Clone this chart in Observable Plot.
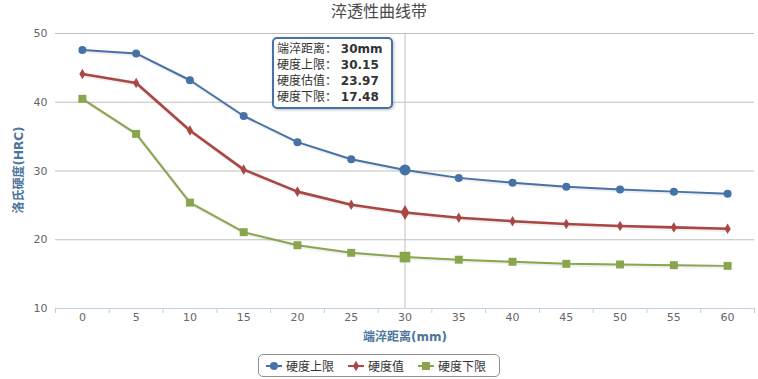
<!DOCTYPE html>
<html><head><meta charset="utf-8">
<script src="https://cdn.jsdelivr.net/npm/d3@7"></script>
<script src="https://cdn.jsdelivr.net/npm/@observablehq/plot@0.6"></script>
<style>
body{margin:0;background:#fff;font-family:"DejaVu Sans","Noto Sans CJK SC",sans-serif;}
#wrap{position:relative;width:758px;height:379px;overflow:hidden;background:#fff}
#wrap > svg{position:absolute;left:0;top:0}
.title{position:absolute;left:0;top:2px;width:758px;text-align:center;font-size:16px;color:#4a4a4a;line-height:20px}
.ylab{position:absolute;left:17px;top:170px;transform:translate(-50%,-50%) rotate(-90deg);white-space:nowrap;font-size:12px;font-weight:bold;color:#4D759E}
.xlab{position:absolute;left:405px;top:335px;transform:translate(-50%,-50%);white-space:nowrap;font-size:12px;font-weight:bold;color:#4D759E}
.legend{position:absolute;left:258px;top:354px;width:242px;height:23px;box-sizing:border-box;border:1px solid #909090;border-radius:5px;display:flex;align-items:center;padding-left:7px;font-size:12px;color:#333;white-space:nowrap}
.legend .item{display:flex;align-items:center;margin-right:14px;flex-shrink:0;white-space:nowrap}
.legend .item svg{display:block;margin-right:4px;flex-shrink:0}
.legend .item span{white-space:nowrap;flex-shrink:0}
.tip{position:absolute;left:272px;top:37px;width:121px;height:72px;box-sizing:border-box;border:2px solid #4572A7;border-radius:5px;background:rgba(255,255,255,0.95);box-shadow:1px 1px 3px rgba(0,0,0,0.25);padding:2px 3px;font-size:12px;line-height:16px;color:#333;white-space:nowrap}
.tip b{font-weight:bold}
</style></head><body><div id="wrap"></div>
<script>
const distances=[0,5,10,15,20,25,30,35,40,45,50,55,60];
const upper=[47.6,47.1,43.2,38.0,34.2,31.7,30.15,29.0,28.3,27.7,27.3,27.0,26.7];
const estimate=[44.1,42.8,35.9,30.2,27.0,25.1,23.97,23.2,22.7,22.3,22.0,21.8,21.6];
const lower=[40.5,35.4,25.4,21.1,19.2,18.1,17.48,17.1,16.8,16.5,16.4,16.3,16.2];
const yTicks=[10,20,30,40,50];
const seriesNames=["硬度上限","硬度值","硬度下限"];
const colors=["#4572A7","#AA4643","#89A54E"];
const symbols=["circle","diamond","square"];
const radii=[4,3.2,4.5];
const hoverRadii=[5.5,4.5,6];
const widths=[2,2.6,2];
const hoverIndex=6;
const titleText="淬透性曲线带";
const xTitle="端淬距离(mm)";
const yTitle="洛氏硬度(HRC)";
const tipLabels=["端淬距离","硬度上限","硬度估值","硬度下限"];

const seriesVals=[upper,estimate,lower];
const boundaries=distances.map(d=>d-2.5).concat([distances[distances.length-1]+2.5]);

const marks=[
  Plot.gridY(yTicks,{stroke:"#C0C0C0",strokeOpacity:1}),
  Plot.axisY(yTicks,{tickSize:0,tickPadding:8,label:null,fill:"#666",fontSize:11}),
  Plot.ruleY([10],{stroke:"#C0D0E0"}),
  Plot.axisX(boundaries,{tickSize:5,stroke:"#C0D0E0",tickFormat:()=>"",label:null}),
  Plot.axisX(distances,{tickSize:0,tickPadding:5,label:null,fill:"#666",fontSize:11}),
  Plot.ruleX([distances[hoverIndex]],{stroke:"#C0C0C0",strokeWidth:1})
];
seriesVals.forEach((vals,s)=>{
  const rows=distances.map((d,i)=>({x:d,y:vals[i]}));
  marks.push(Plot.line(rows,{x:"x",y:"y",stroke:"#000",strokeOpacity:0.06,strokeWidth:widths[s]+2,dx:1,dy:1}));
  marks.push(Plot.line(rows,{x:"x",y:"y",stroke:colors[s],strokeWidth:widths[s]}));
  marks.push(Plot.dot(rows.filter((r,i)=>i!==hoverIndex),{x:"x",y:"y",r:radii[s],symbol:symbols[s],fill:colors[s],stroke:"none"}));
  marks.push(Plot.dot([rows[hoverIndex]],{x:"x",y:"y",r:hoverRadii[s],symbol:symbols[s],fill:colors[s],stroke:"none"}));
});

const chart=Plot.plot({
  width:758,height:379,
  marginTop:33,marginBottom:71,marginLeft:55,marginRight:4,
  x:{type:"linear",domain:[-2.5,62.5]},
  y:{domain:[10,50]},
  style:{fontFamily:'"DejaVu Sans","Noto Sans CJK SC",sans-serif',fontSize:"11px",background:"transparent",color:"#666"},
  marks
});
const wrap=document.getElementById("wrap");
wrap.appendChild(chart);

const t=document.createElement("div");t.className="title";t.textContent=titleText;wrap.appendChild(t);
const yl=document.createElement("div");yl.className="ylab";yl.textContent=yTitle;wrap.appendChild(yl);
const xl=document.createElement("div");xl.className="xlab";xl.textContent=xTitle;wrap.appendChild(xl);

const lg=document.createElement("div");lg.className="legend";
seriesNames.forEach((n,s)=>{
  const it=document.createElement("div");it.className="item";
  const sym=d3.create("svg").attr("width",16).attr("height",12).style("width","16px").style("height","12px");
  sym.append("line").attr("x1",0).attr("x2",16).attr("y1",6).attr("y2",6).attr("stroke",colors[s]).attr("stroke-width",2);
  const symGen=d3.symbol().type(s===0?d3.symbolCircle:s===1?d3.symbolDiamond:d3.symbolSquare).size(Math.PI*radii[s]*radii[s]);
  sym.append("path").attr("d",symGen()).attr("transform","translate(8,6)").attr("fill",colors[s]);
  it.appendChild(sym.node());
  const sp=document.createElement("span");sp.textContent=n;it.appendChild(sp);
  lg.appendChild(it);
});
wrap.appendChild(lg);

const tip=document.createElement("div");tip.className="tip";
const tipVals=[distances[hoverIndex]+"mm",upper[hoverIndex].toFixed(2),estimate[hoverIndex].toFixed(2),lower[hoverIndex].toFixed(2)];
tip.innerHTML=tipLabels.map((l,i)=>`<div>${l}： <b>${tipVals[i]}</b></div>`).join("");
wrap.appendChild(tip);
</script></body></html>
